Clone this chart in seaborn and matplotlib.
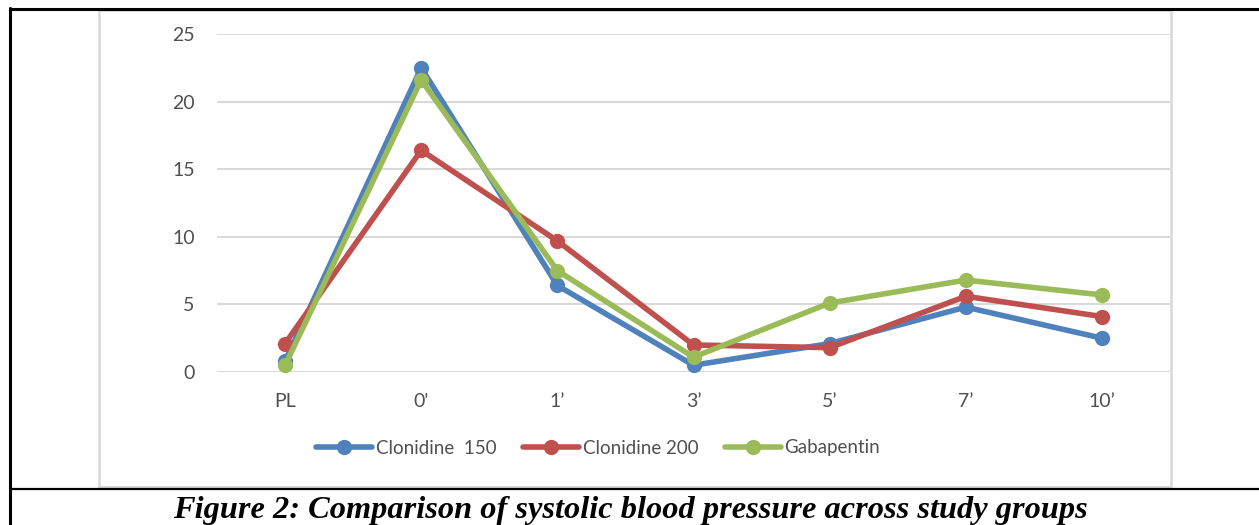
import matplotlib
matplotlib.use("Agg")
import matplotlib.pyplot as plt
import seaborn as sns
import pandas as pd
from matplotlib.lines import Line2D

categories = ["PL", "0'", "1\u2019", "3\u2019", "5\u2019", "7\u2019", "10\u2019"]
clonidine_150 = [0.8, 22.5, 6.4, 0.5, 2.1, 4.8, 2.5]
clonidine_200 = [2.1, 16.4, 9.7, 2.0, 1.8, 5.6, 4.1]
gabapentin = [0.5, 21.6, 7.5, 1.1, 5.1, 6.8, 5.7]
series_names = ["Clonidine  150", "Clonidine 200", "Gabapentin"]
colors = ["#4F81BD", "#C0504D", "#9BBB59"]
yticks = [0, 5, 10, 15, 20, 25]
caption = "Figure 2: Comparison of systolic blood pressure across study groups"

rows = []
for name, vals in zip(series_names, [clonidine_150, clonidine_200, gabapentin]):
    for c, v in zip(categories, vals):
        rows.append({"time": c, "value": v, "group": name})
df = pd.DataFrame(rows)

sns.set_theme(style="white")
plt.rcParams['font.family'] = ['Lato', 'DejaVu Sans']

fig = plt.figure(figsize=(12.59, 5.25), dpi=100)
ax = fig.add_axes([217/1259, 1-372/525, (1170-217)/1259, (372-34)/525])

LW, MS = 4.0, 11
palette = dict(zip(series_names, colors))
sns.lineplot(data=df, x="time", y="value", hue="group", hue_order=series_names,
             palette=palette, marker="o", markersize=MS, linewidth=LW,
             markeredgewidth=0, sort=False, ax=ax, legend=False)

ax.set_xlim(-0.5, len(categories) - 0.5)
ax.set_ylim(0, 25)
ax.set_yticks(yticks)
ax.set_xticks(range(len(categories)))
ax.set_xticklabels(categories)
ax.set_xlabel("")
ax.set_ylabel("")
ax.yaxis.grid(True, color="#D9D9D9", linewidth=1.5)
ax.xaxis.grid(False)
ax.set_axisbelow(True)
for s in ax.spines.values():
    s.set_visible(False)
ax.tick_params(axis="both", length=0, labelsize=14, labelcolor="#505050")
ax.tick_params(axis="y", pad=16)
ax.tick_params(axis="x", pad=15)
for line in ax.lines:
    line.set_clip_on(False)

handles = [Line2D([], [], color=c, linewidth=LW, marker="o", markersize=MS,
                  markeredgewidth=0) for c in colors]
fig.legend(handles, series_names, loc="center", bbox_to_anchor=(598/1259, 1-448/525),
           ncol=3, frameon=False, fontsize=13.5, handlelength=3.0, columnspacing=1.4,
           handletextpad=0.2, labelcolor="#505050")

# borders (table cell look)
W, H = 1259, 525
def fx(x): return x / W
def fy(y): return 1 - y / H
gray = "#D9D9D9"
fig.add_artist(Line2D([fx(99), fx(99)], [fy(10), fy(488)], color=gray, linewidth=1.8))
fig.add_artist(Line2D([fx(1171), fx(1171)], [fy(10), fy(488)], color=gray, linewidth=1.8))
fig.add_artist(Line2D([fx(99), fx(1171)], [fy(10.5), fy(10.5)], color=gray, linewidth=1.5))
fig.add_artist(Line2D([fx(99), fx(1171)], [fy(487), fy(487)], color=gray, linewidth=1.5))
fig.add_artist(Line2D([fx(10), fx(1259)], [fy(9), fy(9)], color="black", linewidth=2.2))
fig.add_artist(Line2D([fx(10), fx(10)], [fy(8), fy(525)], color="black", linewidth=2.2))
fig.add_artist(Line2D([fx(10), fx(1259)], [fy(488.5), fy(488.5)], color="black", linewidth=1.6))

fig.text(630/W, fy(518), caption, ha="center", va="baseline",
         family=["Liberation Serif", "DejaVu Serif"], fontweight="bold",
         fontstyle="italic", fontsize=23.3, color="black")

fig.savefig("out.png", dpi=100)
